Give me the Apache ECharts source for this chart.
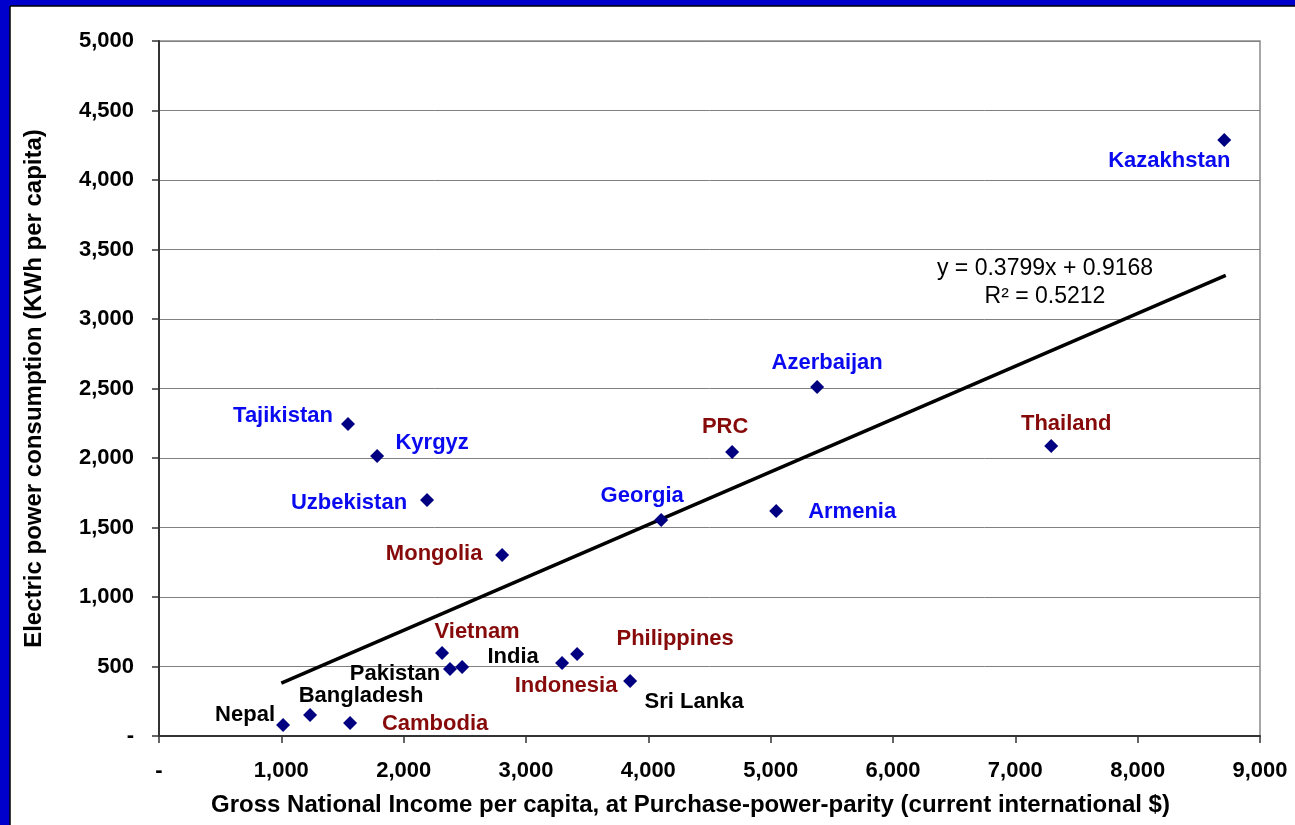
<!DOCTYPE html>
<html>
<head>
<meta charset="utf-8">
<script src="https://cdn.jsdelivr.net/npm/echarts@6/dist/echarts.min.js"></script>
<style>
  html, body { margin: 0; padding: 0; background: #fff; }
  #chart { width: 1295px; height: 825px; }
</style>
</head>
<body>
<div id="chart"></div>
<script>
// country data
const countries = ['Kazakhstan', 'Azerbaijan', 'Thailand', 'PRC', 'Tajikistan', 'Kyrgyz', 'Uzbekistan',
  'Georgia', 'Armenia', 'Mongolia', 'Vietnam', 'Pakistan', 'India', 'Indonesia', 'Philippines',
  'Sri Lanka', 'Nepal', 'Bangladesh', 'Cambodia']
const gniPpp = [8708, 5380, 7293, 4685, 1545, 1783, 2191, 4105, 5045, 2805, 2314, 2379, 2478, 3295, 3418,
  3851, 1014, 1235, 1562]
const powerKwh = [4288, 2511, 2086, 2043, 2245, 2014, 1698, 1554, 1619, 1302, 597, 482, 496, 525, 590,
  396, 79, 151, 94]
const region = ['ca', 'ca', 'sea', 'sea', 'ca', 'ca', 'ca', 'ca', 'ca', 'sea', 'sea', 'sa', 'sa', 'sea', 'sea',
  'sa', 'sa', 'sa', 'sea']

// linear trend end points
const trendX = [1000, 8720]
const trendY = [381, 3314]

const xTicks = [0, 1000, 2000, 3000, 4000, 5000, 6000, 7000, 8000, 9000]
const yTicks = [0, 500, 1000, 1500, 2000, 2500, 3000, 3500, 4000, 4500, 5000]

// label styling
const regionColor = { ca: '#0A0AF0', sea: '#870A0A', sa: '#000000' }
const labelOffset = {
  'Kazakhstan': [-55, 21], 'Azerbaijan': [10, -24], 'Thailand': [15, -22], 'PRC': [-7, -25],
  'Tajikistan': [-65, -8], 'Kyrgyz': [55, -13], 'Uzbekistan': [-78, 3], 'Georgia': [-19, -24],
  'Armenia': [76, 1], 'Mongolia': [-68, -1], 'Vietnam': [35, -21], 'Pakistan': [-55, 5],
  'India': [51, -10], 'Indonesia': [4, 23], 'Philippines': [98, -15], 'Sri Lanka': [64, 21],
  'Nepal': [-38, -10], 'Bangladesh': [51, -19], 'Cambodia': [85, 1]
}

const FONT = "'Liberation Sans', Arial, sans-serif"
const fmt = v => v === 0 ? '-' : v.toLocaleString('en-US')

const points = countries.map((name, i) => ({
  name: name,
  value: [gniPpp[i], powerKwh[i]],
  label: {
    show: true,
    position: 'inside',
    offset: labelOffset[name],
    formatter: name,
    color: regionColor[region[i]],
    opacity: 1,
    fontFamily: FONT,
    fontWeight: 'bold',
    fontSize: 22
  }
}))

const chart = echarts.init(document.getElementById('chart'))

const option = {
  backgroundColor: '#ffffff',
  animation: false,
  grid: {
    left: 159, right: 35, top: 41, bottom: 89,
    show: true, borderColor: '#8a8a8a', borderWidth: 1.5
  },
  xAxis: {
    type: 'value',
    min: xTicks[0],
    max: xTicks[xTicks.length - 1],
    interval: 1000,
    name: 'Gross National Income per capita, at Purchase-power-parity (current international $)',
    nameLocation: 'middle',
    nameGap: 57,
    nameTextStyle: { fontFamily: FONT, fontWeight: 'bold', fontSize: 24, color: '#000', padding: [0, 38, 0, 0] },
    axisLine: { lineStyle: { color: '#333', width: 2 } },
    axisTick: { show: true, length: 7, inside: false, lineStyle: { color: '#333', width: 1.5 } },
    axisLabel: { formatter: fmt, margin: 24, fontFamily: FONT, fontWeight: 'bold', fontSize: 22, color: '#000' },
    splitLine: { show: false }
  },
  yAxis: {
    type: 'value',
    min: yTicks[0],
    max: yTicks[yTicks.length - 1],
    interval: 500,
    name: 'Electric power consumption (KWh per capita)',
    nameLocation: 'middle',
    nameRotate: 90,
    nameGap: 113,
    nameTextStyle: { fontFamily: FONT, fontWeight: 'bold', fontSize: 24, color: '#000' },
    axisLine: { show: true, lineStyle: { color: '#333', width: 2 } },
    axisTick: { show: true, length: 7, inside: false, lineStyle: { color: '#333', width: 1.5 } },
    axisLabel: { formatter: fmt, margin: 25, fontFamily: FONT, fontWeight: 'bold', fontSize: 22, color: '#000' },
    splitLine: { show: true, lineStyle: { color: '#808080', width: 1 } }
  },
  series: [
    {
      type: 'line',
      data: trendX.map((x, i) => [x, trendY[i]]),
      symbol: 'none',
      silent: true,
      lineStyle: { color: '#000', width: 3.5 },
      z: 2
    },
    {
      type: 'scatter',
      data: points,
      symbol: 'diamond',
      symbolSize: 14,
      itemStyle: { color: '#000080', opacity: 1 },
      z: 3
    }
  ],
  graphic: [
    { type: 'rect', shape: { x: 0, y: 0, width: 10, height: 825 }, style: { fill: '#0000CC' }, z: 100 },
    { type: 'rect', shape: { x: 0, y: 0, width: 1295, height: 6 }, style: { fill: '#0000CC' }, z: 100 },
    { type: 'line', shape: { x1: 10, y1: 6, x2: 10, y2: 825 }, style: { stroke: '#000', lineWidth: 1.5 }, z: 100 },
    { type: 'line', shape: { x1: 10, y1: 6, x2: 1295, y2: 6 }, style: { stroke: '#000', lineWidth: 1.5 }, z: 100 },
    {
      type: 'text', x: 1045, y: 269, z: 100,
      style: { text: 'y = 0.3799x + 0.9168', fill: '#000', font: '23px ' + FONT, textAlign: 'center', textVerticalAlign: 'middle' }
    },
    {
      type: 'text', x: 1045, y: 297, z: 100,
      style: { text: 'R² = 0.5212', fill: '#000', font: '23px ' + FONT, textAlign: 'center', textVerticalAlign: 'middle' }
    }
  ]
}

chart.setOption(option)
</script>
</body>
</html>
